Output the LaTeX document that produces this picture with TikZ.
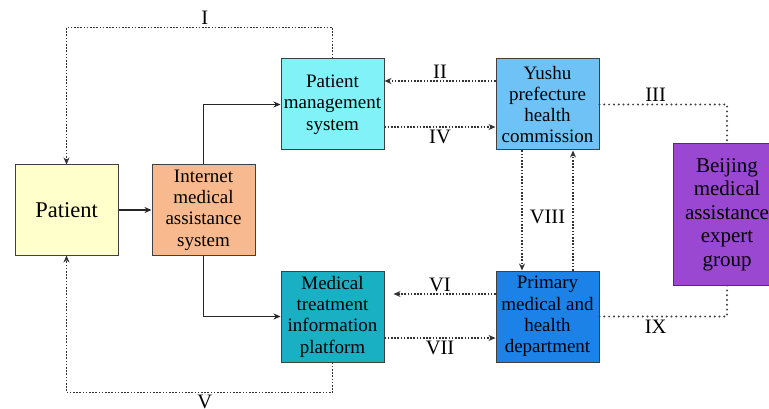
\documentclass[tikz,border=0pt]{standalone}
\usepackage{fontspec}
\setmainfont{Liberation Serif}
\usetikzlibrary{arrows.meta}
\usepackage{xcolor}

\definecolor{patientfill}{HTML}{FFFFCC}
\definecolor{internetfill}{HTML}{F8B98E}
\definecolor{pmsfill}{HTML}{80F2F8}
\definecolor{platformfill}{HTML}{18B0C2}
\definecolor{yushufill}{HTML}{6FC2F6}
\definecolor{primaryfill}{HTML}{1C82E8}
\definecolor{beijingfill}{HTML}{9A47D2}

\begin{document}
\begin{tikzpicture}[
  x=1pt, y=-1pt,
  box/.style={draw=black!75, line width=1pt, align=center, inner sep=0pt, minimum width=103pt, minimum height=91pt, font=\fontsize{19}{21.3}\selectfont},
  lbl/.style={text=black, font=\fontsize{20.5}{22}\selectfont, inner sep=2pt},
  arrow/.style={-{Stealth[length=7pt,width=6pt]}, line width=1.2pt, black!85},
  dotarrow/.style={-{Stealth[length=7pt,width=6pt]}, line width=1.2pt, black!80, dash pattern=on 1.6pt off 1.6pt},
  dotline/.style={line width=2.2pt, black!75, dash pattern=on 0pt off 4.8pt, line cap=round}
]

% Frame
\useasboundingbox (0,0) rectangle (769,409);

% Left column
\node[box, fill=patientfill, minimum height=90pt, font=\fontsize{22.5}{25}\selectfont] (patient) at (66.5,210) {Patient};
\node[box, fill=internetfill, minimum height=90pt] (internet) at (203.5,210) {Internet\\medical\\assistance\\system};

% Middle column
\node[box, fill=pmsfill] (pms) at (332.5,104.5) {Patient\\management\\system};
\node[box, fill=platformfill] (platform) at (332.5,316.5) {Medical\\treatment\\information\\platform};

% Right column
\node[box, fill=yushufill] (yushu) at (547.5,104.5) {Yushu\\prefecture\\health\\commission};
\node[box, fill=primaryfill] (primary) at (547.5,316.5) {Primary\\medical and\\health\\department};
\node[box, fill=beijingfill, minimum width=108pt, minimum height=141pt, font=\fontsize{21}{23.5}\selectfont] (beijing) at (727,214.5) {Beijing\\medical\\assistance\\expert\\group};

% Solid flow
\draw[arrow] (patient) -- (internet);
\draw[arrow] (internet.north) |- (pms.west);
\draw[arrow] (internet.south) |- (platform.west);

% Feedback to patient
\draw[dotarrow] (pms.north) -- ++(0,-31) -| node[lbl, pos=0.24, above]{I} (patient.north);
\draw[dotarrow] (platform.south) -- ++(0,30) -| node[lbl, pos=0.24, below]{V} (patient.south);

% Upper exchange
\draw[dotarrow] ([yshift=23.5pt]yushu.west) -- node[lbl, above]{II} ([yshift=23.5pt]pms.east);
\draw[dotarrow] ([yshift=-22.5pt]pms.east) -- node[lbl, below]{IV} ([yshift=-22.5pt]yushu.west);

% Lower exchange
\draw[dotarrow, shorten >=9pt] ([yshift=22.5pt]primary.west) -- node[lbl, above]{VI} ([yshift=22.5pt]platform.east);
\draw[dotarrow] ([yshift=-21.5pt]platform.east) -- node[lbl, below]{VII} ([yshift=-21.5pt]primary.west);

% Vertical exchange
\draw[dotarrow] ([xshift=-25.5pt]yushu.south) -- ([xshift=-25.5pt]primary.north);
\draw[dotarrow] ([xshift=25.5pt]primary.north) -- ([xshift=25.5pt]yushu.south);
\path (yushu.south) -- node[lbl, pos=0.55]{VIII} (primary.north);

% Expert group links
\draw[dotline] (yushu.east) -| node[lbl, pos=0.22, above]{III} (beijing.north);
\draw[dotline] (primary.east) -| node[lbl, pos=0.22, below]{IX} (beijing.south);

\end{tikzpicture}
\end{document}
